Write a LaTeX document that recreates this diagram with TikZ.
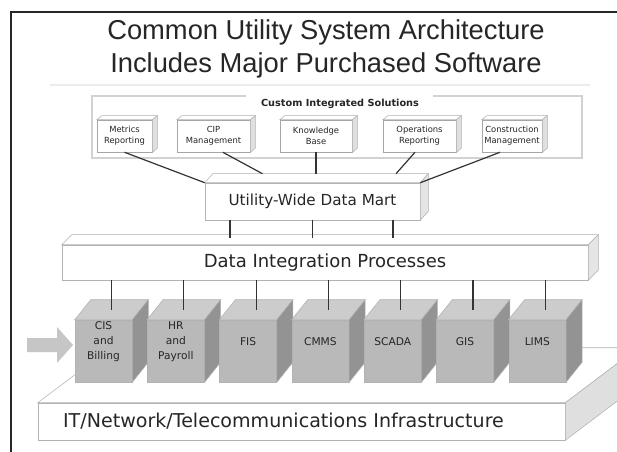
\documentclass[tikz,border=0pt]{standalone}
\usepackage{fontspec}
\setmainfont{DejaVu Sans}
\newfontfamily\headfont{Liberation Sans}
\usetikzlibrary{calc}

% top and right faces of a block drawn behind a front node
\newcommand{\boxfaces}[4]{%
  \filldraw[draw=gray!60, fill=#3] (#1.north west) -- ++(#2) -- ($(#1.north east)+(#2)$) -- (#1.north east) -- cycle;
  \filldraw[draw=gray!60, fill=#4] (#1.north east) -- ++(#2) -- ($(#1.south east)+(#2)$) -- (#1.south east) -- cycle;}

\tikzset{
  slab/.style={draw=gray!60, fill=white, inner sep=0pt, text=black!85},
  apptile/.style={draw=gray!70, fill=white, inner sep=0pt, minimum height=24pt, align=center, text=black!85, font=\fontsize{6.3}{8.5}\selectfont},
  cube/.style={draw=gray!60, fill=gray!55, inner sep=0pt, minimum width=42.75pt, minimum height=46.5pt},
  cubetext/.style={align=center, text=black!85, font=\fontsize{8}{11}\selectfont},
  link/.style={draw=black!80, line width=0.9pt},
}

\begin{document}
\begin{tikzpicture}[x=0.75pt,y=-0.75pt]
    \useasboundingbox (0,0) rectangle (617,452);
    \clip (0,0) rectangle (617,452);
    \fill[white] (0,0) rectangle (617,452);
    \draw[line width=1.5pt, black!85] (11,452) -- (11,12) -- (617,12);

    % heading
    \node[font=\headfont\fontsize{20.5}{25}\selectfont, align=center, text=black!85] (heading) at (326,49)
        {Common Utility System Architecture\\Includes Major Purchased Software};
    \draw[gray!15, line width=1pt] (50,85) -- (590,85);

    % custom solutions row
    \node[font=\bfseries\fontsize{7.3}{9}\selectfont, text=black!85] (custom) at (340,104) {Custom Integrated Solutions};
    \draw[gray!35, line width=1.5pt] (246,96) -- (92,96) -- (92,158) -- (582,158) -- (582,96) -- (433,96);
    \foreach \nm/\x/\w/\txt in {metrics/124.5/55/{Metrics\\Reporting}, cip/213.5/73/{CIP\\Management},
        knowledge/316/72/{Knowledge\\Base}, operations/419.5/73/{Operations\\Reporting},
        construction/512/60/{Construction\\Management}}{
        \node[apptile, minimum width=\w*0.75pt] (\nm) at (\x,136) {\txt};
        \boxfaces{\nm}{5,-4}{white}{gray!25}
    }

    % data mart
    \node[slab, minimum width=161.25pt, minimum height=27.75pt, font=\fontsize{11.4}{13}\selectfont] (mart) at (312.5,201.5) {Utility-Wide Data Mart};
    \boxfaces{mart}{8,-9}{white}{gray!20}
    \coordinate (marttop) at ($(mart.north)+(0,-9)$);
    \draw[link] (metrics.south) -- (mart.north west);
    \draw[link] ([xshift=7pt]cip.south) -- ($(marttop)+(-50,0)$);
    \draw[link] (knowledge.south) -- (knowledge.south |- marttop);
    \draw[link] ([xshift=-3.4pt]operations.south) -- ($(marttop)+(83.5,0)$);
    \draw[link] ([xshift=-9pt]construction.south) -- (mart.north east);

    % integration layer
    \node[slab, minimum width=394.5pt, minimum height=26.25pt, font=\fontsize{13.5}{15}\selectfont] (dip) at (325,262.5) {Data Integration Processes};
    \boxfaces{dip}{10,-10}{white}{gray!20}
    \coordinate (diptop) at ($(dip.north)+(0,-7)$);
    \foreach \dx in {-82.5,0,80.5}{
        \path (mart.south) ++(\dx,0) coordinate (tap);
        \draw[link] (tap) -- (tap |- diptop);
    }

    % infrastructure platform
    \node[slab, minimum width=395.25pt, minimum height=27.75pt, font=\fontsize{14.3}{16}\selectfont] (infra) at (301.5,421.5)
        {IT/Network/Telecommunications Infrastructure\hspace*{27pt}};
    \boxfaces{infra}{73,-55}{white}{gray!25}

    % purchased systems
    \foreach \i/\nm/\txt in {0/cis/{CIS\\and\\Billing}, 1/hr/{HR\\and\\Payroll}, 2/fis/FIS, 3/cmms/CMMS,
        4/scada/SCADA, 5/gis/GIS, 6/lims/LIMS}{
        \node[cube] (\nm) at (103.5+72.3*\i,351) {};
        \boxfaces{\nm}{16,-20}{gray!40}{gray!85}
        \node[cubetext] (\nm-label) at ([yshift=7pt]\nm.center) {\txt};
        \coordinate (\nm-top) at ($(\nm.north)+(8,-10)$);
        \draw[link] (dip.south -| \nm-top) -- (\nm-top);
    }

    % feed arrow
    \fill[gray!45] (27,338) -- (57,338) -- (57,327) -- (73,345) -- (57,363) -- (57,352) -- (27,352) -- cycle;
\end{tikzpicture}
\end{document}
